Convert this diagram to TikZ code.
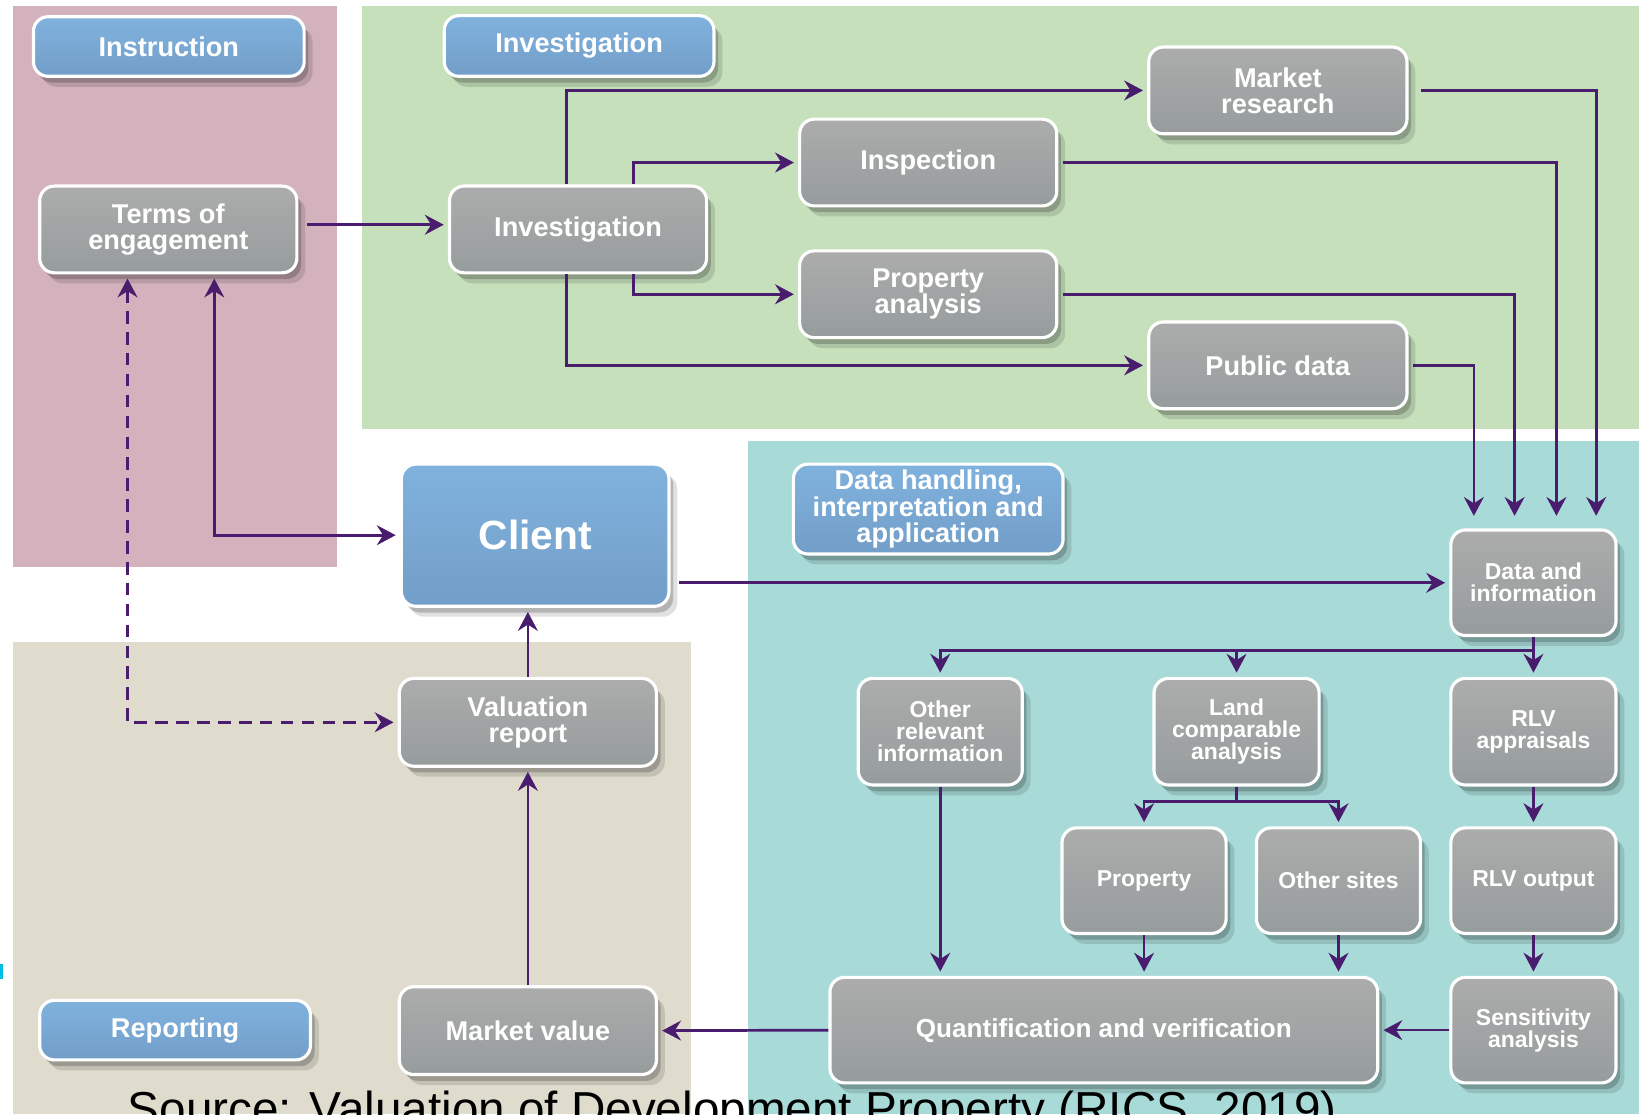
\documentclass[tikz,border=0pt]{standalone}
\usepackage{fontspec}
\setmainfont{Liberation Sans}
\usetikzlibrary{arrows.meta,shadows}
\definecolor{pinkbg}{RGB}{211,177,189}
\definecolor{greenbg}{RGB}{197,224,187}
\definecolor{tealbg}{RGB}{168,219,216}
\definecolor{beigebg}{RGB}{223,219,205}
\definecolor{arrowc}{RGB}{74,28,110}
\definecolor{graytop}{RGB}{172,172,172}
\definecolor{graybot}{RGB}{150,156,156}
\definecolor{bluetop}{RGB}{128,178,222}
\definecolor{bluebot}{RGB}{114,158,200}
\definecolor{cyanmark}{RGB}{0,190,225}
\tikzset{
 box/.style={rounded corners=7pt, draw=white, line width=1.5pt, text=white,
   font=\bfseries\fontsize{13}{12.5}\selectfont, align=center, inner sep=0pt,
   drop shadow={shadow xshift=4pt, shadow yshift=-5pt, opacity=0.12, fill=black},
   drop shadow={shadow xshift=2pt, shadow yshift=-3pt, opacity=0.2, fill=black}},
 graybox/.style={box, top color=graytop, bottom color=graybot},
 bluebox/.style={box, top color=bluetop, bottom color=bluebot},
 smalltext/.style={font=\bfseries\fontsize{11}{10.5}\selectfont},
 arr/.style={draw=arrowc, line width=1.3pt, -{Stealth[length=9pt,width=9.5pt,inset=3pt]}, shorten >=2pt},
 link/.style={draw=arrowc, line width=1.3pt},
 both/.style={arr, {Stealth[length=9pt,width=9.5pt,inset=3pt]}-{Stealth[length=9pt,width=9.5pt,inset=3pt]}, shorten <=2pt},
}
\begin{document}
\begin{tikzpicture}[x=0.5pt,y=-0.5pt]
\useasboundingbox (0,0) rectangle (1568,1066);
\fill[white] (0,0) rectangle (1568,1066);
% backgrounds
\fill[pinkbg] (12,6) rectangle (322,542);
\fill[greenbg] (346,6) rectangle (1568,410);
\fill[tealbg] (716,422) rectangle (1568,1066);
\fill[beigebg] (12,614) rectangle (661,1066);
\fill[cyanmark] (0,922) rectangle (3,937);

% nodes
\node[bluebox, minimum width=129.5pt, minimum height=28.5pt] (instr) at (161.5,44.5) {Instruction};
\node[bluebox, minimum width=129pt, minimum height=29pt] (invh) at (554,44) {Investigation};
\node[graybox, minimum width=123pt, minimum height=41.5pt] (terms) at (161,219.5) {Terms of\\engagement};
\node[graybox, minimum width=123pt, minimum height=41.5pt] (inv) at (553,219.5) {Investigation};
\node[graybox, minimum width=123.5pt, minimum height=41.5pt] (mr) at (1222.5,86.5) {Market\\research};
\node[graybox, minimum width=123pt, minimum height=41.5pt] (insp) at (888,155.5) {Inspection};
\node[graybox, minimum width=123pt, minimum height=41.5pt] (pa) at (888,281.5) {Property\\analysis};
\node[graybox, minimum width=123.5pt, minimum height=41.5pt] (pd) at (1222.5,349.5) {Public data};
\node[bluebox, minimum width=128pt, minimum height=68pt, font=\bfseries\fontsize{19.5}{20}\selectfont] (client) at (512,512) {Client};
\node[bluebox, minimum width=129pt, minimum height=43pt] (dh) at (888,487) {Data handling,\\interpretation and\\application};
\node[graybox, smalltext, minimum width=79pt, minimum height=50.5pt] (di) at (1467,557.5) {Data and\\information};
\node[graybox, smalltext, minimum width=78.5pt, minimum height=51pt] (ori) at (899.5,700) {Other\\relevant\\information};
\node[graybox, smalltext, minimum width=79pt, minimum height=51pt] (lca) at (1183,700) {Land\\comparable\\analysis};
\node[graybox, smalltext, minimum width=79pt, minimum height=51pt] (rlva) at (1467,700) {RLV\\appraisals};
\node[graybox, smalltext, minimum width=78.5pt, minimum height=50.5pt] (prop) at (1094.5,842.5) {Property};
\node[graybox, smalltext, minimum width=78.5pt, minimum height=50.5pt] (os) at (1280.5,842.5) {Other sites};
\node[graybox, smalltext, minimum width=79pt, minimum height=50.5pt] (rlvo) at (1467,842.5) {RLV output};
\node[graybox, minimum width=123pt, minimum height=42pt] (vr) at (505,691) {Valuation\\report};
\node[graybox, minimum width=123pt, minimum height=42pt] (mv) at (505,986) {Market value};
\node[bluebox, minimum width=129.5pt, minimum height=28.5pt] (rep) at (167.5,985.5) {Reporting};
\node[graybox, minimum width=262pt, minimum height=50.5pt, font=\bfseries\fontsize{12.5}{12.5}\selectfont] (qv) at (1056,985.5) {Quantification and verification};
\node[graybox, smalltext, minimum width=79pt, minimum height=50.5pt] (sa) at (1467,985.5) {Sensitivity\\analysis};

% connectors
\draw[arr, shorten <=4pt] (terms.east |- 0,215) -- (inv.west |- 0,215);
\draw[arr] (542,0 |- inv.north) |- (mr.west);
\draw[arr] (606,0 |- inv.north) |- (insp.west);
\draw[arr] (606,0 |- inv.south) |- (pa.west);
\draw[arr] (542,0 |- inv.south) |- (pd.west);
\draw[arr, shorten <=6pt, shorten >=6pt] (mr.east) -| (1527,0 |- di.north);
\draw[arr, shorten <=2pt, shorten >=6pt] (insp.east) -| (1489,0 |- di.north);
\draw[arr, shorten <=2pt, shorten >=6pt] (pa.east) -| (1449,0 |- di.north);
\draw[arr, shorten <=2pt, shorten >=6pt] (pd.east) -| (1410,0 |- di.north);
\draw[arr, shorten <=4pt] (client.east |- di.west) -- (di.west);
\draw[both] (205,0 |- terms.south) |- (client.west);
\draw[both, dash pattern=on 6pt off 4pt] (122,0 |- terms.south) |- (vr.west);
\draw[arr] (vr.north) -- (vr.north |- client.south);
\draw[arr] (mv.north) -- (vr.south);
\draw[arr] (qv.west) -- (mv.east);
\draw[arr] (sa.west) -- (qv.east);
\coordinate (s1) at (1467,622);
\draw[arr] (di.south) -- (rlva.north);
\draw[arr] (s1) -| (ori.north);
\draw[arr] (lca.north |- s1) -- (lca.north);
\coordinate (s2) at (1183,767);
\draw[link] (lca.south) -- (s2);
\draw[arr] (s2) -| (prop.north);
\draw[arr] (s2) -| (os.north);
\draw[arr] (ori.south) -- (ori.south |- qv.north);
\draw[arr] (prop.south) -- (prop.south |- qv.north);
\draw[arr] (os.south) -- (os.south |- qv.north);
\draw[arr] (rlva.south) -- (rlvo.north);
\draw[arr] (rlvo.south) -- (sa.north);

\node[anchor=base west, inner sep=0pt, font=\fontsize{22.8}{27}\selectfont] (src) at (122,1077) {Source: Valuation of Development Property (RICS, 2019)};
\end{tikzpicture}
\end{document}
